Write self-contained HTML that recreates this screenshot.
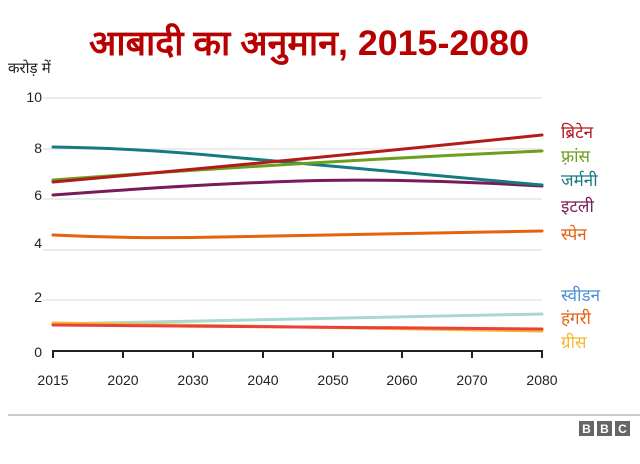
<!DOCTYPE html>
<html><head><meta charset="utf-8"><style>
body{margin:0;background:#fff;width:640px;height:459px;overflow:hidden;font-family:"Liberation Sans","Noto Sans CJK SC",sans-serif}
</style></head><body>
<svg width="640" height="459" xmlns="http://www.w3.org/2000/svg" font-family="Liberation Sans, Noto Sans CJK SC, sans-serif">
<text x="309" y="55" text-anchor="middle" font-size="35" font-weight="bold" fill="#b80000" textLength="440" lengthAdjust="spacingAndGlyphs">आबादी का अनुमान, 2015-2080</text>
<text x="8" y="73" font-size="15" fill="#222">करोड़ में</text>
<g stroke="#e6e6e6" stroke-width="1.5">
<line x1="43" y1="98" x2="542" y2="98"/><line x1="43" y1="149" x2="542" y2="149"/><line x1="43" y1="199" x2="542" y2="199"/><line x1="43" y1="250" x2="542" y2="250"/><line x1="43" y1="300" x2="542" y2="300"/>
</g>
<g font-size="14" fill="#222" text-anchor="end">
<text x="42" y="102">10</text><text x="42" y="153">8</text><text x="42" y="200">6</text><text x="42" y="248">4</text><text x="42" y="302">2</text><text x="42" y="357">0</text>
</g>
<g fill="none" stroke-width="3" stroke-linecap="round">
<path d="M53,324 L542,314" stroke="#a8d8d4"/>
<path d="M53,323 Q300,326 542,331" stroke="#f7b733"/>
<path d="M53,325 L542,329" stroke="#e8413c"/>
<path d="M53,235 Q135,239 220,237 T542,231" stroke="#e8620e"/>
<path d="M53,195 Q200,184 300,181 T542,186" stroke="#7a1a5a"/>
<path d="M53,147 Q135,148 230,157 T542,185" stroke="#167b80"/>
<path d="M53,180 Q300,162 542,151" stroke="#6c9e1f"/>
<path d="M53,182 Q300,160 542,135" stroke="#b31a1a"/>
</g>
<line x1="52" y1="351" x2="543" y2="351" stroke="#222" stroke-width="2"/>
<g stroke="#222" stroke-width="2">
<line x1="53" y1="351" x2="53" y2="358"/><line x1="123" y1="351" x2="123" y2="358"/><line x1="193" y1="351" x2="193" y2="358"/><line x1="263" y1="351" x2="263" y2="358"/><line x1="333" y1="351" x2="333" y2="358"/><line x1="402" y1="351" x2="402" y2="358"/><line x1="472" y1="351" x2="472" y2="358"/><line x1="542" y1="351" x2="542" y2="358"/>
</g>
<g font-size="14" fill="#222" text-anchor="middle">
<text x="53" y="385">2015</text><text x="123" y="385">2020</text><text x="193" y="385">2030</text><text x="263" y="385">2040</text><text x="333" y="385">2050</text><text x="402" y="385">2060</text><text x="472" y="385">2070</text><text x="542" y="385">2080</text>
</g>
<g font-size="17">
<text x="561" y="138" fill="#b31a1a">ब्रिटेन</text>
<text x="561" y="162" fill="#6c9e1f">फ़्रांस</text>
<text x="561" y="186" fill="#167b80">जर्मनी</text>
<text x="561" y="212" fill="#7a1a5a">इटली</text>
<text x="561" y="240" fill="#e8620e">स्पेन</text>
<text x="561" y="301" fill="#4a90d9">स्वीडन</text>
<text x="561" y="324" fill="#e8620e">हंगरी</text>
<text x="561" y="348" fill="#f7b733">ग्रीस</text>
</g>
<line x1="8" y1="415" x2="640" y2="415" stroke="#999" stroke-width="1"/>
<g font-size="12" font-weight="bold" fill="#fff" text-anchor="middle">
<rect x="579" y="421" width="15" height="15" fill="#666"/><text x="586.5" y="433">B</text>
<rect x="597" y="421" width="15" height="15" fill="#666"/><text x="604.5" y="433">B</text>
<rect x="615" y="421" width="15" height="15" fill="#666"/><text x="622.5" y="433">C</text>
</g>
</svg>
</body></html>
